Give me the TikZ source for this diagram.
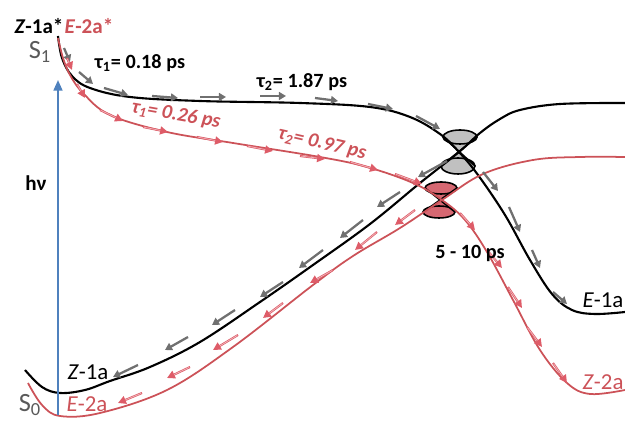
\documentclass[tikz,border=0pt]{standalone}
\usepackage{fontspec}
\setmainfont{Carlito}
\usetikzlibrary{arrows.meta}
\definecolor{pesred}{RGB}{204,82,88}
\definecolor{arrred}{RGB}{222,92,104}
\definecolor{arrgray}{RGB}{112,112,112}
\definecolor{conegray}{RGB}{192,192,192}
\definecolor{conered}{RGB}{214,104,114}
\definecolor{hvblue}{RGB}{79,129,189}
\definecolor{stategray}{RGB}{89,89,89}
\tikzset{
  grayarr/.style={draw=arrgray,line width=1.3pt,-{Triangle[length=4pt,width=4.5pt]}},
  redarr/.style={draw=arrred,line width=1.2pt,-{Triangle[length=4.5pt,width=4.5pt]}},
  redcore/.style={draw=white!55!arrred,line width=0.4pt,shorten >=4.5pt,shorten <=0.5pt},
  blackpes/.style={draw=black,line width=1.2pt},
  redpes/.style={draw=pesred,line width=1pt},
  lbl/.style={inner sep=0pt,font=\fontsize{13}{15}\selectfont},
  tau/.style={inner sep=0pt,font=\fontsize{11.5}{13}\selectfont\bfseries}
}
\begin{document}
\begin{tikzpicture}[x=0.02cm,y=-0.02cm]
\useasboundingbox (0,0) rectangle (625,421);
% conical intersections
\fill[conegray] (443,137) -- (459,152) -- (477,137) -- cycle;
\fill[conegray] (441,166) -- (459,152) -- (475,166) -- cycle;
\draw[line width=0.9pt,fill=conegray] (460,137) ellipse (17 and 7);
\draw[line width=0.9pt,fill=conegray] (458,166) ellipse (17 and 8);
\draw[line width=0.9pt] (443,137) -- (475,166);
\draw[line width=0.9pt] (477,137) -- (441,166);
\fill[conered] (425,188) -- (442,200) -- (457,188) -- cycle;
\fill[conered] (423,212) -- (442,200) -- (455,212) -- cycle;
\draw[line width=0.9pt,fill=conered] (441,188) ellipse (16 and 6);
\draw[line width=0.9pt,fill=conered] (439,212) ellipse (16 and 6);
\draw[line width=0.9pt] (425,188) -- (455,212);
\draw[line width=0.9pt] (457,188) -- (423,212);
% potential energy curves
\draw[blackpes] plot[smooth,tension=0.6] coordinates {(58,36) (62,58) (72,76) (90,88) (130,97) (200,101) (300,103) (370,107) (410,117) (440,134) (459,152) (478,175) (505,215) (530,260) (552,294) (572,310) (595,314) (625,312)};
\draw[blackpes] plot[smooth,tension=0.6] coordinates {(25,370) (42,387) (60,393) (85,390) (110,381) (150,367) (200,342) (260,302) (313,265) (370,224) (420,183) (459,152) (480,133) (500,119) (520,110) (560,104) (625,103)};
\draw[redpes] plot[smooth,tension=0.6] coordinates {(58,38) (63,58) (70,75) (83,93) (110,115) (167,132) (233,143) (320,157) (367,167) (413,183) (442,200) (465,220) (487,252) (513,300) (540,350) (567,383) (590,394) (625,390)};
\draw[redpes] plot[smooth,tension=0.6] coordinates {(28,383) (42,405) (60,416) (100,413) (167,390) (233,347) (313,285) (353,256) (400,228) (442,200) (483,174) (533,160) (580,157) (625,157)};
% excitation
\coordinate (s0bot) at (58,415);
\coordinate (s1top) at (58,80);
\draw[hvblue,line width=1.2pt,-{Triangle[length=6pt,width=5pt]}] (s0bot) -- (s1top);
% relaxation arrows, black path
\foreach \xa/\ya/\xb/\yb in {64/48/70/62, 79/72/93/84, 104/88/128/95, 152/96/178/98, 200/97/226/97,
  260/96/286/96, 315/98/338/101, 368/104/393/109, 416/116/440/129,
  483/172/498/191, 509/207/520/232, 532/250/540/268, 553/292/567/304,
  447/161/418/177, 400/192/377/207, 363/220/340/238, 323/250/299/268, 283/282/260/297,
  235/310/212/325, 188/337/165/350, 138/365/113/377}
  \draw[grayarr] (\xa,\ya) -- (\xb,\yb);
% relaxation arrows, red path
\foreach \xa/\ya/\xb/\yb in {67/58/72/70, 77/84/85/98, 100/110/123/121, 143/127/168/132, 197/137/223/142,
  247/146/273/151, 300/156/325/159, 350/162/378/170, 395/174/422/184,
  460/213/475/230, 487/250/502/268, 508/287/522/308, 527/327/542/347, 553/363/567/383,
  415/210/395/225, 377/232/355/250, 333/270/310/283, 283/303/263/318,
  238/335/213/350, 190/367/167/378, 142/393/118/403}
  {\draw[redarr] (\xa,\ya) -- (\xb,\yb);
   \draw[redcore] (\xa,\ya) -- (\xb,\yb);}
% labels
\node[lbl,font=\fontsize{12}{14}\selectfont\bfseries] (z1astar) at (39,26) {\textit{Z}-1a*};
\node[lbl,font=\fontsize{12}{14}\selectfont\bfseries,text=pesred] (e2astar) at (89,26) {\textit{E}-2a*};
\node[lbl,font=\fontsize{15}{17}\selectfont,text=stategray] (sone) at (40,52) {S\textsubscript{1}};
\node[lbl,font=\fontsize{15}{17}\selectfont,text=stategray] (szero) at (30,405) {S\textsubscript{0}};
\node[tau] (tauZa) at (140,63) {τ\textsubscript{1}= 0.18 ps};
\node[tau] (tauZb) at (302,82) {τ\textsubscript{2}= 1.87 ps};
\node[tau,text=pesred,rotate=-10] (tauEa) at (176,115) {\itshape τ\textsubscript{1}= 0.26 ps};
\node[tau,text=pesred,rotate=-13] (tauEb) at (322,144) {\itshape τ\textsubscript{2}= 0.97 ps};
\node[tau,font=\fontsize{12}{14}\selectfont\bfseries] (hnu) at (36,183) {hν};
\node[tau] (ci) at (470,253) {5 - 10 ps};
\node[lbl] (e1a) at (603,300) {\textit{E}-1a};
\node[lbl] (z1a) at (88,372) {\textit{Z}-1a};
\node[lbl,text=pesred] (e2a) at (87,404) {\textit{E}-2a};
\node[lbl,text=pesred] (z2a) at (603,382) {\textit{Z}-2a};
\end{tikzpicture}
\end{document}
